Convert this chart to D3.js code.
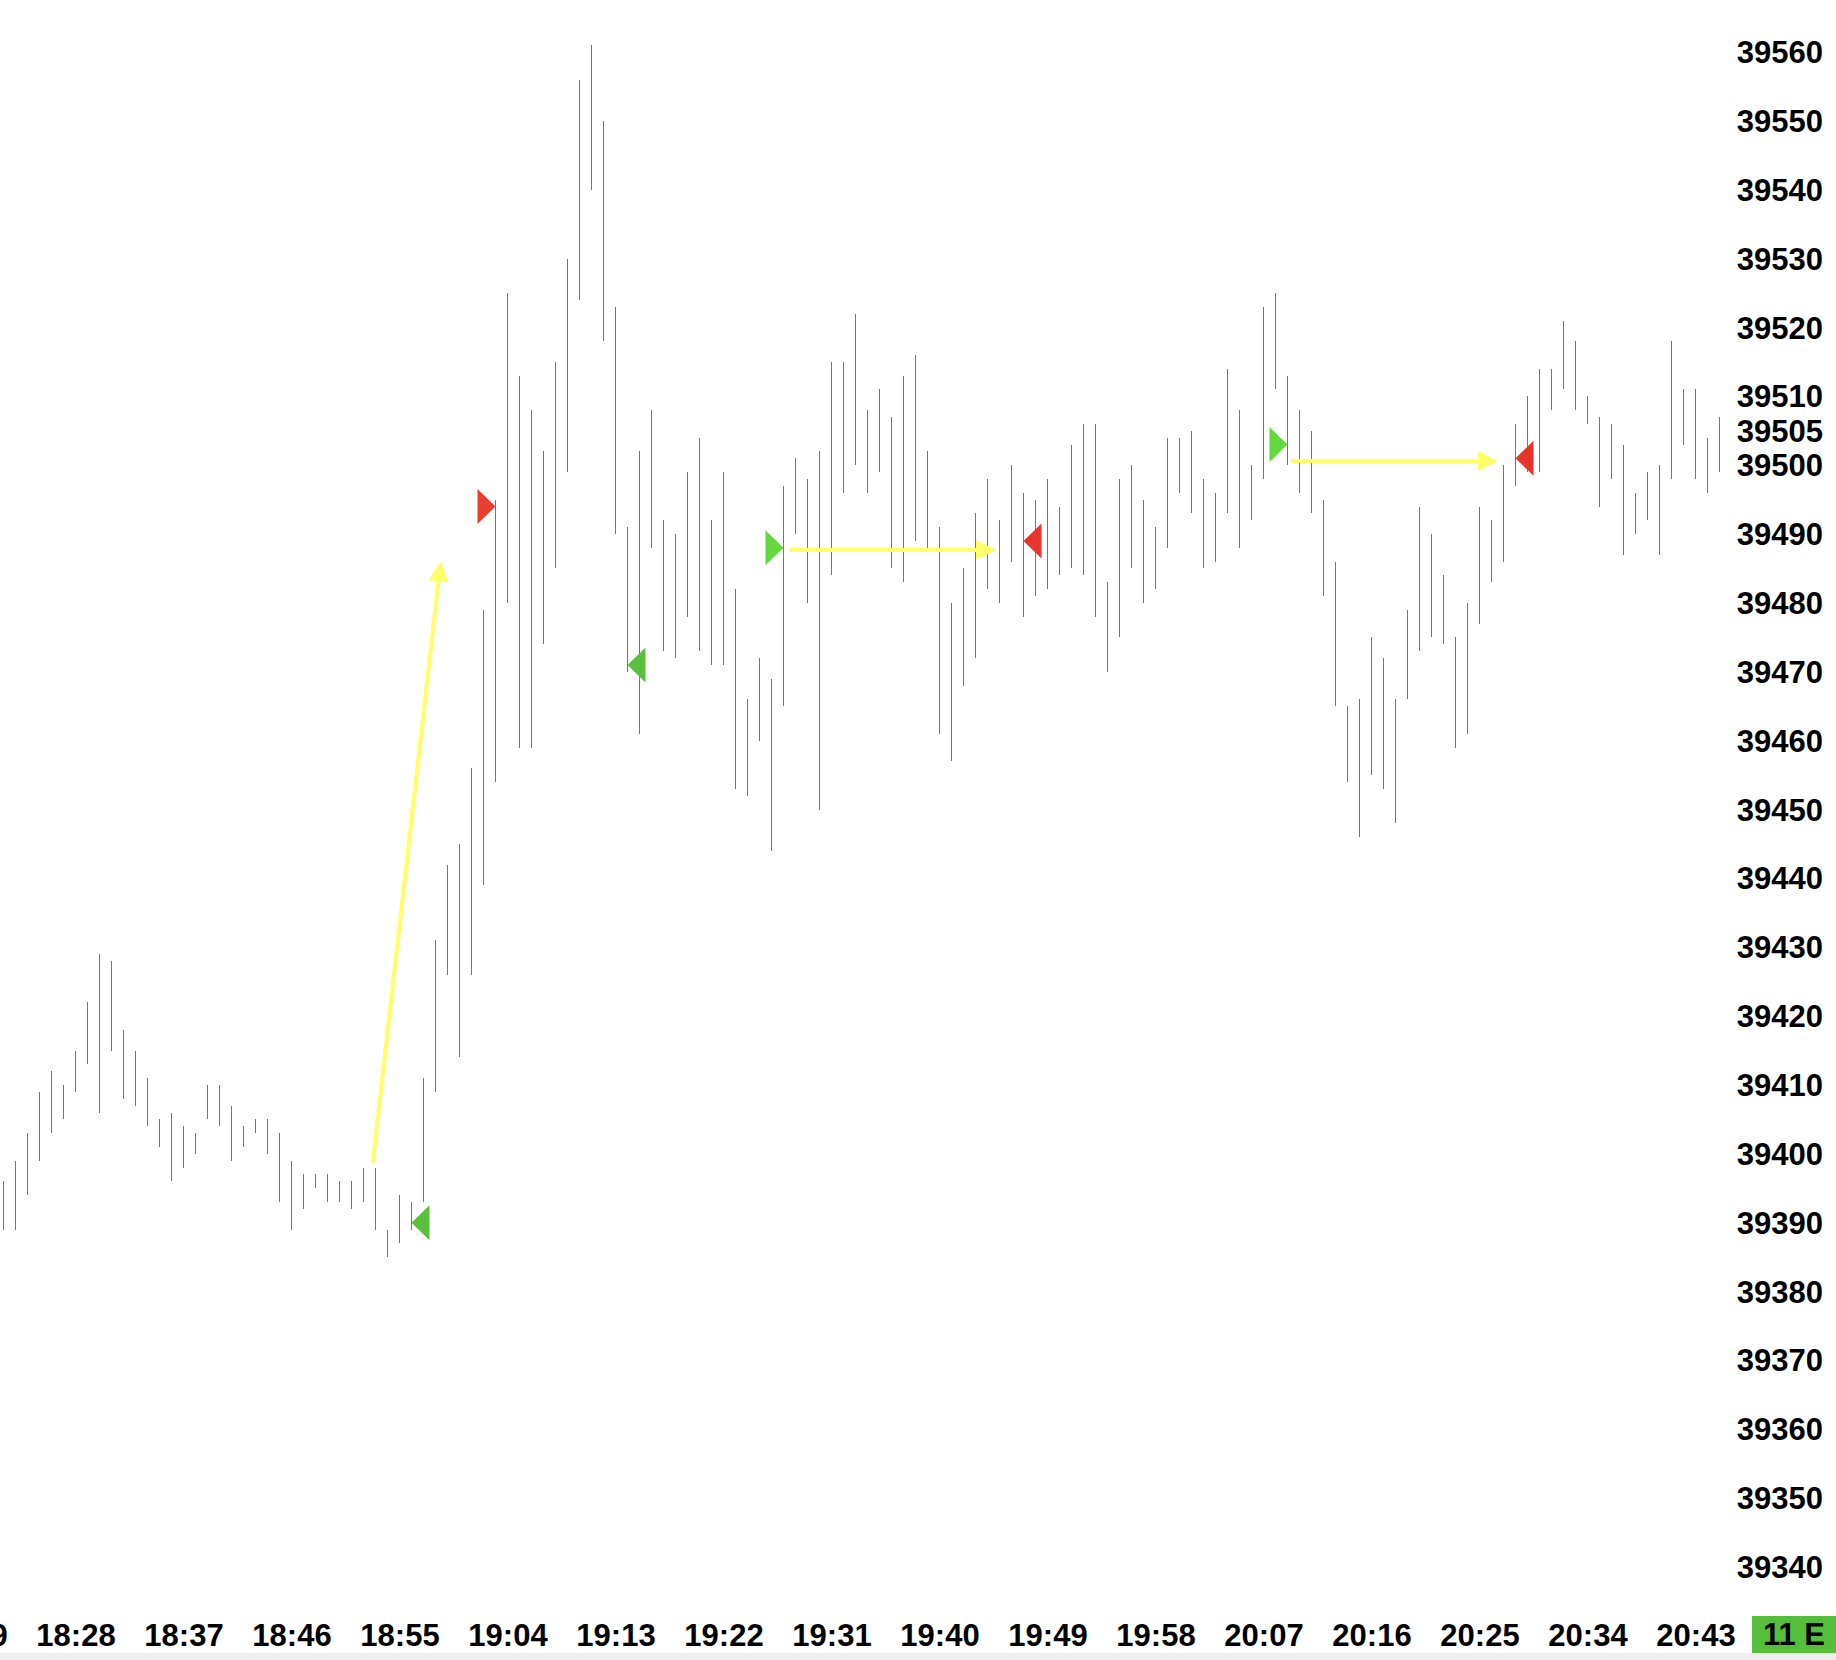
<!DOCTYPE html>
<html>
<head>
<meta charset="utf-8">
<script src="https://cdn.jsdelivr.net/npm/d3@7"></script>
<style>
  body { margin: 0; background: #fff; }
  svg { display: block; }
  .axis text { font-family: "Liberation Sans", Arial, sans-serif; font-weight: 700; font-size: 31px; fill: #000; }
</style>
</head>
<body>
<div id="chart"></div>
<script>
// one-minute bars starting at 18:22
const firstBarTime = "18:22";

const highs = [
  39396, 39399, 39403, 39409, 39412, 39410, 39415, 39422, 39429, 39428,
  39418, 39415, 39411, 39405, 39406, 39404, 39403, 39410, 39410, 39407,
  39404, 39405, 39405, 39403, 39399, 39397, 39397, 39397, 39396, 39396,
  39398, 39398, 39389, 39394, 39393, 39411, 39431, 39442, 39445, 39456,
  39479, 39495, 39525, 39513, 39508, 39502, 39515, 39530, 39556, 39561,
  39550, 39523, 39491, 39502, 39508, 39492, 39490, 39499, 39504, 39492,
  39499, 39482, 39466, 39472, 39469, 39497, 39501, 39498, 39502, 39515,
  39515, 39522, 39508, 39511, 39507, 39513, 39516, 39502, 39491, 39480,
  39485, 39493, 39498, 39492, 39500, 39496, 39495, 39498, 39494, 39503,
  39506, 39506, 39483, 39498, 39500, 39495, 39491, 39504, 39504, 39505,
  39498, 39496, 39514, 39508, 39500, 39523, 39525, 39513, 39508, 39505,
  39495, 39486, 39465, 39466, 39475, 39472, 39466, 39479, 39494, 39490,
  39484, 39475, 39480, 39494, 39492, 39500, 39506, 39510, 39514, 39514,
  39521, 39518, 39510, 39507, 39506, 39503, 39496, 39499, 39500, 39518,
  39511, 39511, 39504, 39507
];

const lows = [
  39389, 39389, 39394, 39399, 39403, 39405, 39409, 39413, 39406, 39415,
  39408, 39407, 39404, 39401, 39396, 39398, 39400, 39405, 39404, 39399,
  39401, 39403, 39400, 39393, 39389, 39392, 39395, 39393, 39393, 39392,
  39393, 39389, 39385, 39387, 39389, 39393, 39409, 39426, 39414, 39426,
  39439, 39454, 39480, 39459, 39459, 39474, 39485, 39499, 39524, 39540,
  39518, 39490, 39470, 39461, 39488, 39473, 39472, 39478, 39473, 39471,
  39471, 39453, 39452, 39460, 39444, 39465, 39490, 39480, 39450, 39484,
  39496, 39500, 39496, 39499, 39485, 39483, 39489, 39488, 39461, 39457,
  39468, 39472, 39482, 39480, 39486, 39478, 39481, 39482, 39484, 39485,
  39484, 39478, 39470, 39475, 39485, 39480, 39482, 39488, 39496, 39493,
  39485, 39486, 39493, 39488, 39492, 39498, 39511, 39500, 39496, 39493,
  39481, 39465, 39454, 39446, 39455, 39453, 39448, 39466, 39473, 39475,
  39474, 39459, 39461, 39477, 39483, 39486, 39497, 39499, 39499, 39508,
  39511, 39508, 39506, 39494, 39498, 39487, 39490, 39492, 39487, 39498,
  39503, 39498, 39496, 39499
];

const timeLabels = ["18:19", "18:28", "18:37", "18:46", "18:55", "19:04", "19:13", "19:22", "19:31",
  "19:40", "19:49", "19:58", "20:07", "20:16", "20:25", "20:34", "20:43"];

const priceTicks = [39340, 39350, 39360, 39370, 39380, 39390, 39400, 39410, 39420, 39430, 39440,
  39450, 39460, 39470, 39480, 39490, 39500, 39505, 39510, 39520, 39530, 39540, 39550, 39560];

// signal markers: bar index, price, pointing direction, colour
const signalBars = [34, 41, 52, 65, 85, 107, 126];
const signalPrices = [39390, 39494, 39471, 39488, 39489, 39503, 39501];
const signalDirs = ["left", "right", "left", "right", "left", "right", "left"];
const signalColors = ["#5abf3b", "#e8402f", "#5abf3b", "#64d93f", "#e8352a", "#64d93f", "#e8352a"];

// yellow arrows: [bar index, price] start -> tip
const arrowStarts = [[30.77, 39398.7], [65.48, 39487.7], [107.27, 39500.6]];
const arrowEnds = [[36.43, 39486.0], [82.71, 39487.7], [124.52, 39500.6]];

const boxLabel = "11 E";

const W = 1836, H = 1660;

const toMin = t => { const [h, m] = t.split(":").map(Number); return h * 60 + m; };
const base = toMin(firstBarTime);

const svg = d3.select("#chart")
  .append("svg")
  .attr("width", W)
  .attr("height", H);

svg.append("rect").attr("width", W).attr("height", H).attr("fill", "#fff");

// Scales
const x = d3.scaleLinear()
  .domain([0, 143])
  .range([3.5, 3.5 + 12 * 143]);

const y = d3.scaleLinear()
  .domain([39340, 39560])
  .range([1567, 52]);

// bottom strip
svg.append("rect")
  .attr("x", 0).attr("y", 1653)
  .attr("width", W).attr("height", H - 1653)
  .attr("fill", "#efefef");

// Bars
const bars = highs.map((h, i) => ({ i: i, high: h, low: lows[i] }));

svg.append("g")
  .selectAll("line")
  .data(bars)
  .enter()
  .append("line")
  .attr("x1", d => x(d.i))
  .attr("x2", d => x(d.i))
  .attr("y1", d => y(d.high))
  .attr("y2", d => y(d.low))
  .attr("stroke", "#777")
  .attr("stroke-width", 1)
  .attr("shape-rendering", "crispEdges");

// Arrows
const arrowG = svg.append("g");
arrowStarts.forEach((s, k) => {
  const e = arrowEnds[k];
  const x1 = x(s[0]), y1 = y(s[1]);
  const x2 = x(e[0]), y2 = y(e[1]);
  const len = Math.hypot(x2 - x1, y2 - y1);
  const ux = (x2 - x1) / len, uy = (y2 - y1) / len;
  const head = 20, half = 10;
  const bx = x2 - ux * head, by = y2 - uy * head;
  arrowG.append("line")
    .attr("x1", x1).attr("y1", y1)
    .attr("x2", bx).attr("y2", by)
    .attr("stroke", "#ffff66")
    .attr("stroke-width", 4);
  arrowG.append("path")
    .attr("d", `M${x2},${y2}L${bx - uy * half},${by + ux * half}L${bx + uy * half},${by - ux * half}Z`)
    .attr("fill", "#ffff66");
});

// Signal triangles
svg.append("g")
  .selectAll("path")
  .data(signalBars)
  .enter()
  .append("path")
  .attr("d", (b, k) => {
    const px = x(b), py = y(signalPrices[k]);
    const dx = signalDirs[k] === "left" ? 18 : -18;
    return `M${px},${py}L${px + dx},${py - 17.5}L${px + dx},${py + 17.5}Z`;
  })
  .attr("fill", (b, k) => signalColors[k]);

// Y axis (price labels on the right)
svg.append("g")
  .attr("class", "axis")
  .attr("transform", "translate(1823,0)")
  .call(d3.axisLeft(y).tickValues(priceTicks).tickSize(0).tickPadding(0).tickFormat(d3.format("d")))
  .call(g => g.select(".domain").remove())
  .call(g => g.selectAll("text").attr("dy", "0.34em"));

// X axis (time labels)
svg.append("g")
  .attr("class", "axis")
  .attr("transform", "translate(0,1624)")
  .call(d3.axisBottom(x)
    .tickValues(timeLabels.map(t => toMin(t) - base))
    .tickSize(0).tickPadding(0)
    .tickFormat((d, k) => timeLabels[k]))
  .call(g => g.select(".domain").remove());

// green box at bottom right
svg.append("rect")
  .attr("x", 1752).attr("y", 1616)
  .attr("width", W - 1752).attr("height", 37)
  .attr("fill", "#55bf3b");

svg.append("text")
  .attr("x", 1794).attr("y", 1645)
  .attr("text-anchor", "middle")
  .style("font-family", "'Liberation Sans', Arial, sans-serif")
  .style("font-weight", "700")
  .style("font-size", "31px")
  .text(boxLabel);
</script>
</body>
</html>
